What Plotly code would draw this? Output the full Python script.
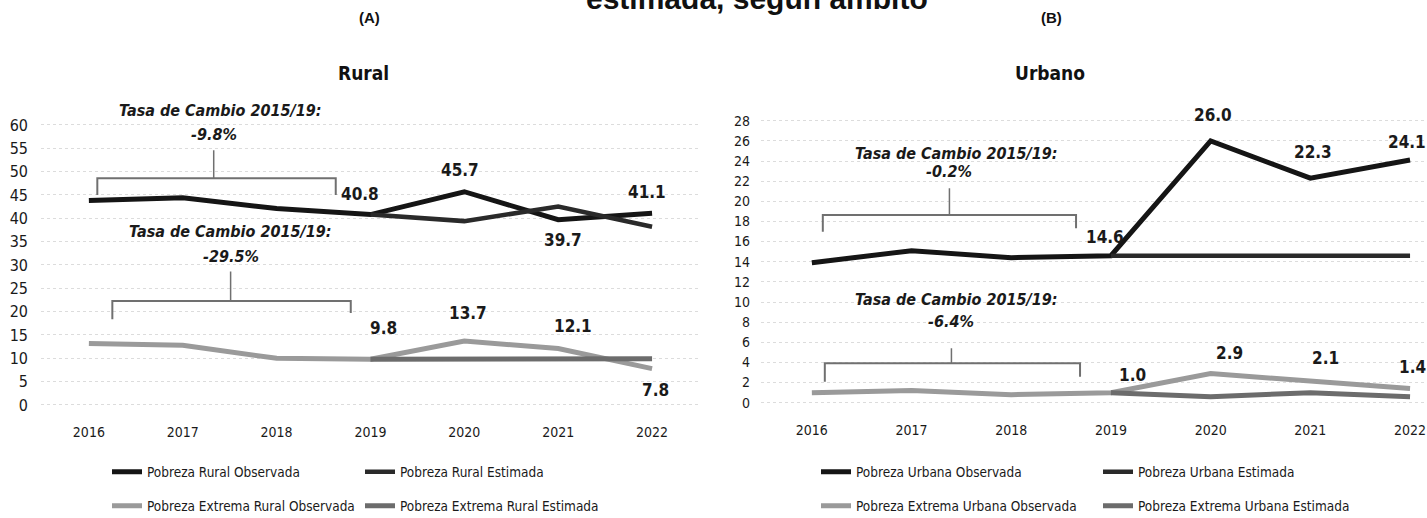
import plotly.graph_objects as go

# ---------------- data ----------------
years = [2016, 2017, 2018, 2019, 2020, 2021, 2022]
years_est = [2019, 2020, 2021, 2022]

rural_obs = [43.8, 44.4, 42.1, 40.8, 45.7, 39.7, 41.1]
rural_est = [40.8, 39.4, 42.5, 38.2]
rural_ext_obs = [13.2, 12.8, 10.0, 9.8, 13.7, 12.1, 7.8]
rural_ext_est = [9.8, 9.8, 9.9, 9.9]

urban_obs = [13.9, 15.1, 14.4, 14.6, 26.0, 22.3, 24.1]
urban_est = [14.6, 14.6, 14.6, 14.6]
urban_ext_obs = [1.0, 1.2, 0.8, 1.0, 2.9, 2.1, 1.4]
urban_ext_est = [1.0, 0.6, 1.0, 0.6]

rural_yticks = [0, 5, 10, 15, 20, 25, 30, 35, 40, 45, 50, 55, 60]
urban_yticks = [0, 2, 4, 6, 8, 10, 12, 14, 16, 18, 20, 22, 24, 26, 28]

rate_rural = "-9.8%"
rate_rural_ext = "-29.5%"
rate_urban = "-0.2%"
rate_urban_ext = "-6.4%"

names_rural = ["Pobreza Rural Observada", "Pobreza Rural Estimada",
               "Pobreza Extrema Rural Observada", "Pobreza Extrema Rural Estimada"]
names_urban = ["Pobreza Urbana Observada", "Pobreza Urbana Estimada",
               "Pobreza Extrema Urbana Observada", "Pobreza Extrema Urbana Estimada"]

# ---------------- style ----------------
W, H = 1427, 518
NARROW = "DejaVu Sans Condensed, Liberation Sans Narrow, Arial Narrow, sans-serif"
ARIAL = "Liberation Sans, Arial, sans-serif"
C_OBS = "#151515"
C_EST = "#2a2a2a"
C_EXT_OBS = "#9a9a9a"
C_EXT_EST = "#6c6c6c"
C_BRACKET = "#707070"

fig = go.Figure()


def add_line(x, y, name, color, width, xa, ya, legend):
    fig.add_trace(go.Scatter(
        x=x, y=y, name=name, mode="lines", xaxis=xa, yaxis=ya,
        line=dict(color=color, width=width), legend=legend,
        cliponaxis=False, hoverinfo="x+y+name"))


# Rural
add_line(years, rural_obs, names_rural[0], C_OBS, 5, "x", "y", "legend")
add_line(years_est, rural_est, names_rural[1], C_EST, 4.5, "x", "y", "legend")
add_line(years, rural_ext_obs, names_rural[2], C_EXT_OBS, 5, "x", "y", "legend2")
add_line(years_est, rural_ext_est, names_rural[3], C_EXT_EST, 5, "x", "y", "legend2")
# Urban
add_line(years, urban_obs, names_urban[0], C_OBS, 5, "x2", "y2", "legend3")
add_line(years_est, urban_est, names_urban[1], C_EST, 4.5, "x2", "y2", "legend3")
add_line(years, urban_ext_obs, names_urban[2], C_EXT_OBS, 5, "x2", "y2", "legend4")
add_line(years_est, urban_ext_est, names_urban[3], C_EXT_EST, 5, "x2", "y2", "legend4")

annotations = []

# data labels (index into full-year series, xshift, yshift)
label_specs = [
    (rural_obs, "x", "y", [(3, -10, 21), (4, -4, 22), (5, 5, -20), (6, -5, 21)]),
    (rural_ext_obs, "x", "y", [(3, 13, 31), (4, 4, 28), (5, 15, 23), (6, 3, -21)]),
    (urban_obs, "x2", "y2", [(3, -6, 19), (4, 2, 26), (5, 3, 26), (6, -3, 18)]),
    (urban_ext_obs, "x2", "y2", [(3, 22, 18), (4, 19, 20), (5, 15, 24), (6, 2, 22)]),
]
for series, xr, yr, specs in label_specs:
    for i, dx, dy in specs:
        annotations.append(dict(
            x=years[i], y=series[i], xref=xr, yref=yr, text=f"{series[i]:.1f}",
            showarrow=False, xshift=dx, yshift=dy, xanchor="center", yanchor="middle",
            font=dict(family=NARROW, size=17, color="#1a1a1a", weight="bold")))

# bracket annotations
TASA = "Tasa de Cambio 2015/19:"
bracket_text = [
    ("x", "y", 2017.40, 63.2, 2017.33, 57.9, rate_rural),
    ("x", "y", 2017.51, 37.1, 2017.51, 31.8, rate_rural_ext),
    ("x2", "y2", 2017.45, 24.77, 2017.38, 23.0, rate_urban),
    ("x2", "y2", 2017.45, 10.2, 2017.40, 8.1, rate_urban_ext),
]
tfont = dict(family=NARROW, size=16, color="#1a1a1a", weight="bold", style="italic")
for xr, yr, xt, yt, xrt, yrt, rt in bracket_text:
    annotations.append(dict(x=xt, y=yt, xref=xr, yref=yr, text=TASA, showarrow=False,
                            xanchor="center", yanchor="middle", font=tfont))
    annotations.append(dict(x=xrt, y=yrt, xref=xr, yref=yr, text=rt, showarrow=False,
                            xanchor="center", yanchor="middle", font=tfont))

# bracket shapes
brackets = [
    ("x", "y", 2016.09, 45.0, 2018.63, 45.0, 48.6, 2017.33, 54.6),
    ("x", "y", 2016.25, 18.4, 2018.79, 19.7, 22.3, 2017.51, 28.6),
    ("x2", "y2", 2016.11, 16.98, 2018.65, 17.32, 18.64, 2017.38, 21.29),
    ("x2", "y2", 2016.13, 2.09, 2018.69, 2.58, 3.91, 2017.40, 5.40),
]
shapes = []
for xr, yr, x0, y0, x1, y1, yh, xs, ys in brackets:
    shapes.append(dict(type="path", xref=xr, yref=yr,
                       path=f"M {x0},{y0} L {x0},{yh} L {x1},{yh} L {x1},{y1}",
                       line=dict(color=C_BRACKET, width=2)))
    shapes.append(dict(type="line", xref=xr, yref=yr, x0=xs, x1=xs, y0=yh, y1=ys,
                       line=dict(color=C_BRACKET, width=1.5)))

# titles
annotations += [
    dict(x=757 / W, y=1 + 2 / H, xref="paper", yref="paper", text="<b>estimada, según ámbito</b>",
         showarrow=False, xanchor="center", yanchor="middle",
         font=dict(family=ARIAL, size=30, color="#111")),
    dict(x=369 / W, y=1 - 17 / H, xref="paper", yref="paper", text="<b>(A)</b>",
         showarrow=False, xanchor="center", yanchor="middle",
         font=dict(family=ARIAL, size=15, color="#111")),
    dict(x=1051 / W, y=1 - 17 / H, xref="paper", yref="paper", text="<b>(B)</b>",
         showarrow=False, xanchor="center", yanchor="middle",
         font=dict(family=ARIAL, size=15, color="#111")),
    dict(x=363 / W, y=1 - 73 / H, xref="paper", yref="paper", text="<b>Rural</b>",
         showarrow=False, xanchor="center", yanchor="middle",
         font=dict(family=NARROW, size=19, color="#111")),
    dict(x=1050 / W, y=1 - 73 / H, xref="paper", yref="paper", text="<b>Urbano</b>",
         showarrow=False, xanchor="center", yanchor="middle",
         font=dict(family=NARROW, size=19, color="#111")),
]

grid = dict(showgrid=True, gridcolor="#dcdcdc", griddash="dot", gridwidth=1,
            zeroline=False, showline=False, ticks="")
xcommon = dict(tickmode="array", tickvals=years, ticktext=[str(y) for y in years],
               showgrid=False, zeroline=False, showline=False, ticks="",
               tickfont=dict(family=NARROW, size=14, color="#1a1a1a"), ticklabelstandoff=12,
               ticklabeloverflow="allow")

leg_common = dict(orientation="h", xanchor="left", yanchor="middle", bgcolor="rgba(0,0,0,0)",
                  font=dict(family=NARROW, size=13.5, color="#1a1a1a"), itemwidth=30,
                  traceorder="normal", entrywidthmode="pixels")

# rural axis: 0 -> 405 px, 4.667 px per unit; urban: 0 -> 402.7 px, 10.07 px per unit
r_lo, r_hi = -1, 66
u_lo, u_hi = -0.5, 28.5
fig.update_layout(
    width=W, height=H, margin=dict(l=0, r=0, t=0, b=0, autoexpand=False),
    paper_bgcolor="white", plot_bgcolor="white",
    xaxis=dict(domain=[41 / W, 699 / W], range=[2015.49, 2022.5], anchor="y", **xcommon),
    yaxis=dict(domain=[1 - (405 - r_lo * 4.667) / H, 1 - (405 - r_hi * 4.667) / H],
               range=[r_lo, r_hi], anchor="x",
               tickmode="array", tickvals=rural_yticks,
               tickfont=dict(family=NARROW, size=16, color="#1a1a1a"), ticklabelstandoff=12, **grid),
    xaxis2=dict(domain=[761 / W, 1.0], range=[2015.49, 2022.17], anchor="y2", **xcommon),
    yaxis2=dict(domain=[1 - (402.7 - u_lo * 10.07) / H, 1 - (402.7 - u_hi * 10.07) / H],
                range=[u_lo, u_hi], anchor="x2",
                tickmode="array", tickvals=urban_yticks,
                tickfont=dict(family=NARROW, size=14, color="#1a1a1a"), ticklabelstandoff=10, **grid),
    legend=dict(x=107 / W, y=1 - 472 / H, entrywidth=208, **leg_common),
    legend2=dict(x=107 / W, y=1 - 506 / H, entrywidth=208, **leg_common),
    legend3=dict(x=816 / W, y=1 - 472 / H, entrywidth=237, **leg_common),
    legend4=dict(x=816 / W, y=1 - 506 / H, entrywidth=237, **leg_common),
    annotations=annotations,
    shapes=shapes,
    showlegend=True,
)

# remove the default 8px page margin so the figure fills the window exactly
fig.write_html("out.html", config={"displayModeBar": False},
               post_script="document.body.style.margin='0px';")
